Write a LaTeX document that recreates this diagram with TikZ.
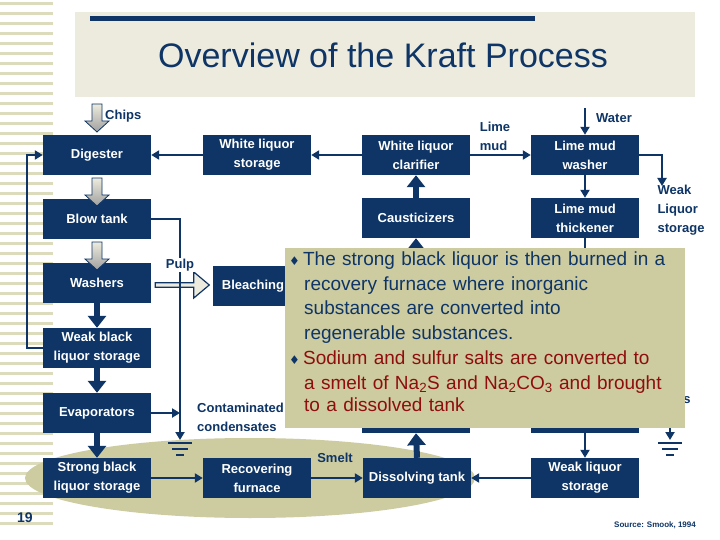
\documentclass[tikz,border=0pt]{standalone}
\usepackage{fontspec}
\setmainfont{Liberation Sans}
\newfontfamily\dejavu{DejaVu Sans}
\usetikzlibrary{arrows.meta,shapes.arrows,calc}
\definecolor{navy}{HTML}{0E3566}
\definecolor{beige}{HTML}{CDCBA0}
\definecolor{lbeige}{HTML}{EDEBDD}
\definecolor{dred}{HTML}{8E0E0E}
\tikzset{
 box/.style={fill=navy,text=white,minimum width=108pt,minimum height=40pt,inner sep=1pt,align=center,font=\fontsize{13}{19}\selectfont\bfseries},
 lbl/.style={text=navy,align=left,font=\fontsize{13}{19}\selectfont\bfseries,inner sep=0pt},
 ln/.style={draw=navy,line width=2.5pt,-{Triangle[length=8pt,width=9pt]}},
 fat/.style={draw=navy,line width=6pt,-{Triangle[length=12pt,width=18pt]}},
 grayarr/.style={draw=navy,line width=0.8pt,top color=lbeige,bottom color=gray!75},
}
\newcommand{\gnd}[1]{\draw[navy,line width=2pt] ($#1+(-12,0)$)--($#1+(12,0)$) ($#1+(-8,6)$)--($#1+(8,6)$) ($#1+(-4,12)$)--($#1+(4,12)$);}
\newcommand{\garrow}[2]{\path[grayarr] (#1-5,#2) -- (#1+5,#2) -- (#1+5,#2+17) -- (#1+12,#2+17) -- (#1,#2+28) -- (#1-12,#2+17) -- (#1-5,#2+17) -- cycle;}
\newcommand{\bul}{{\color{navy}\dejavu\fontsize{12}{12}\selectfont ♦}\,}
\begin{document}
\begin{tikzpicture}[x=1pt,y=-1pt]
\useasboundingbox (0,0) rectangle (720,540);
\fill[white] (0,0) rectangle (720,540);
\foreach \i in {0,...,52} \fill[beige!70] (0,{\i*10+2}) rectangle (53,{\i*10+5});
\fill[lbeige] (75,12) rectangle (695,97);
\fill[navy] (90,16) rectangle (535,21);
\node[text=navy,font=\fontsize{34}{38}\selectfont] (title) at (383,55) {Overview of the Kraft Process};
\fill[beige] (250,478) ellipse (225 and 40);
% boxes
\node[box] (dig) at (97,155) {Digester};
\node[box] (wls) at (257,155) {White liquor\\storage};
\node[box] (wlc) at (416,155) {White liquor\\clarifier};
\node[box] (lmw) at (585,155) {Lime mud\\washer};
\node[box] (blow) at (97,219) {Blow tank};
\node[box] (caus) at (416,218) {Causticizers};
\node[box] (lmt) at (585,218) {Lime mud\\thickener};
\node[box] (wash) at (97,283) {Washers};
\node[box,minimum width=80pt] (bl) at (253,286) {Bleaching};
\node[box] (wbl) at (97,348) {Weak black\\liquor storage};
\node[box] (evap) at (97,413) {Evaporators};
\node[box] (sbl) at (97,478) {Strong black\\liquor storage};
\node[box] (rf) at (257,478) {Recovering\\furnace};
\node[box] (dt) at (417,478) {Dissolving tank};
\node[box] (wlq) at (585,478) {Weak liquor\\storage};
\node[box] (hid1) at (416,413) {};
\node[box] (hid2) at (585,413) {};
% gray arrows
\garrow{97}{104}
\garrow{97}{178}
\garrow{97}{242}
\node[lbl,anchor=west] (chips) at (105,116) {Chips};
% fat arrows
\draw[fat] (wash.south) -- (wbl.north);
\draw[fat] (wbl.south) -- (evap.north);
\draw[fat] (evap.south) -- (sbl.north);
\draw[fat] (caus.north) -- (wlc.south);
\draw[fat] (hid1.north) -- (caus.south);
\draw[fat] (dt.north) -- (hid1.south);
% outline arrow washers->bleaching
\node[single arrow,draw=navy,fill=lbeige,line width=1.2pt,minimum height=54pt,minimum width=26pt,single arrow head extend=3pt,single arrow tip angle=80,inner sep=0pt] (oa) at (181,285) {};
% lines
\draw[ln] (wls.west) -- (dig.east);
\draw[ln] (wlc.west) -- (wls.east);
\draw[ln] (wlc.east) -- (lmw.west);
\node[lbl] (limemud) at (495,136) {Lime\\mud};
\coordinate (wtop) at (585,108);
\draw[ln] (wtop) -- (lmw.north);
\node[lbl,anchor=west] (water) at (596,118) {Water};
\coordinate (wk) at (662,186);
\draw[ln] (lmw.east) -| (wk);
\node[lbl] (wkl) at (681,210) {Weak\\Liquor\\storage};
\draw[ln] (lmw.south) -- (lmt.north);
\draw[ln] (lmt.south) -- (hid2.north);
\draw[ln] (hid2.south) -- (wlq.north);
\draw[ln] (wlq.west) -- (dt.east);
\draw[ln] (sbl.east) -- (rf.west);
\draw[ln] (rf.east) -- (dt.west);
\node[lbl] (smelt) at (335,458) {Smelt};
\coordinate (g1) at (180,440);
\draw[ln] (blow.east) -| (g1);
\gnd{(180,443)}
\coordinate (e1) at (180,413);
\draw[ln] (evap.east) -- (e1);
\node[lbl,fill=white,inner sep=1pt] (pulp) at (180,265) {Pulp};
\node[lbl,anchor=west] (cc) at (197,417) {Contaminated\\condensates};
\coordinate (lp) at (27,348);
\draw[ln] (wbl.west) -- (lp) |- (dig.west);
\coordinate (g2t) at (670,410);
\coordinate (g2) at (670,440);
\draw[ln] (g2t) -- (g2);
\gnd{(670,443)}
\node[lbl] (s) at (687,400) {s};
% overlay
\node[fill=beige,minimum width=400pt,minimum height=180pt,anchor=north west,inner sep=0pt] (ov) at (285,248) {};
\node[anchor=north west,align=left,text width=396pt,inner sep=0pt,font=\fontsize{19}{24.5}\selectfont] (tx) at (289,252) {%
\textcolor{navy}{\bul The strong black liquor is then burned in a}\\
\textcolor{navy}{\hspace*{15pt}recovery furnace where inorganic}\\
\textcolor{navy}{\hspace*{15pt}substances are converted into}\\
\textcolor{navy}{\hspace*{15pt}regenerable substances.}\\[1pt]
\textcolor{dred}{\bul Sodium and sulfur salts are converted to}\\
\textcolor{dred}{\hspace*{15pt}a smelt of Na\textsubscript{2}S and Na\textsubscript{2}CO\textsubscript{3} and brought}\\[-2pt]
\textcolor{dred}{\hspace*{15pt}to a dissolved tank}};
\node[text=navy,font=\fontsize{14}{16}\selectfont\bfseries] (num) at (25,518) {19};
\node[lbl,font=\fontsize{8}{10}\selectfont\bfseries] (src) at (655,525) {Source: Smook, 1994};
\end{tikzpicture}
\end{document}
